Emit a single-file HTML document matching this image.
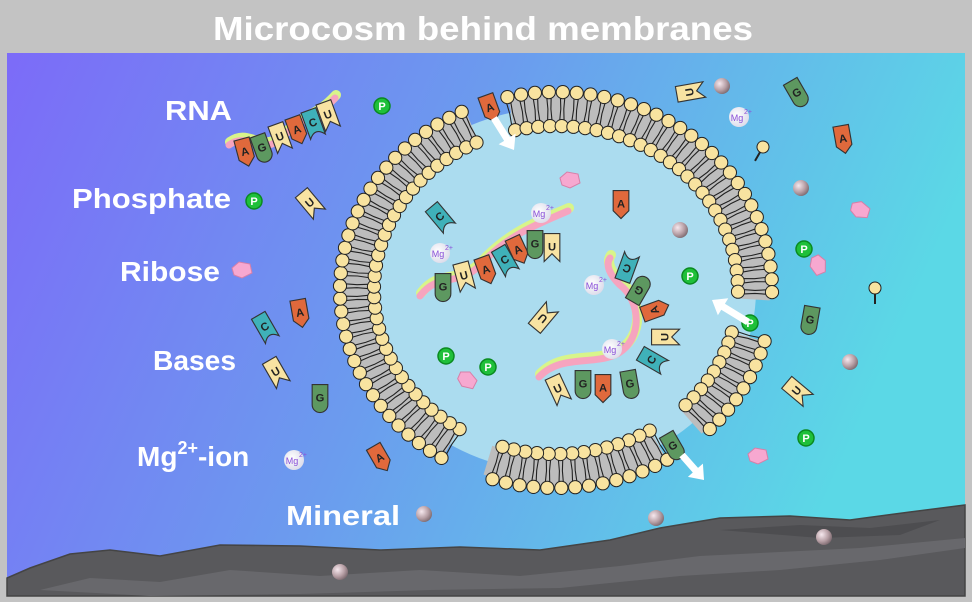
<!DOCTYPE html>
<html><head><meta charset="utf-8"><style>
html,body{margin:0;padding:0;background:#c3c3c3;}
svg{display:block;}
.lbl{font-family:"Liberation Sans",sans-serif;font-weight:bold;fill:#fff;}
</style></head><body>
<svg id="s" width="972" height="602" viewBox="0 0 972 602" xmlns="http://www.w3.org/2000/svg">
<defs>
<linearGradient id="bg" x1="0" y1="0" x2="1" y2="0.25">
<stop offset="0" stop-color="#7c6bf8"/><stop offset="0.5" stop-color="#6b9cee"/><stop offset="1" stop-color="#5bd8e6"/>
</linearGradient>
<radialGradient id="min" cx="0.35" cy="0.35" r="0.7"><stop offset="0" stop-color="#f6e8ee"/><stop offset="0.6" stop-color="#b8a0a6"/><stop offset="1" stop-color="#7d6a70"/></radialGradient>
<radialGradient id="mg" cx="0.4" cy="0.4" r="0.7"><stop offset="0" stop-color="#ffffff"/><stop offset="1" stop-color="#d8d8e8"/></radialGradient>
</defs>
<rect x="0" y="0" width="972" height="602" fill="#c3c3c3"/>
<rect x="7" y="53" width="958" height="543" fill="url(#bg)"/>
<text class="lbl" x="213" y="40" font-size="33" textLength="540" lengthAdjust="spacingAndGlyphs">Microcosm behind membranes</text>
<g id="rock">
<path d="M7,596 L7,578 L30,568 L70,554 L110,550 L160,556 L220,545 L300,546 L380,550 L460,547 L540,550 L610,540 L660,528 L720,518 L790,516 L850,520 L910,512 L965,505 L965,596 Z" fill="#59595c" stroke="#444" stroke-width="1.5"/>
<path d="M40,590 L90,578 L160,582 L230,570 L320,576 L420,570 L520,576 L620,566 L700,556 L780,552 L860,548 L965,538 L965,548 L880,560 L780,570 L680,576 L560,588 L430,590 L300,594 L150,596 Z" fill="#68686c"/>
<path d="M720,530 L800,525 L870,528 L940,520 L900,535 L820,538 Z" fill="#4d4d50"/>
</g>
<ellipse cx="556" cy="290" rx="200" ry="182" fill="#abdcef"/>
<g id="mem"></g>
<g id="items"></g>
<text class="lbl" x="165" y="120" font-size="28" textLength="67" lengthAdjust="spacingAndGlyphs">RNA</text>
<text class="lbl" x="72" y="208" font-size="28" textLength="159" lengthAdjust="spacingAndGlyphs">Phosphate</text>
<text class="lbl" x="120" y="281" font-size="28" textLength="100" lengthAdjust="spacingAndGlyphs">Ribose</text>
<text class="lbl" x="153" y="370" font-size="28" textLength="83" lengthAdjust="spacingAndGlyphs">Bases</text>
<text class="lbl" x="137" y="466" font-size="28">Mg<tspan font-size="18" dy="-12">2+</tspan><tspan dy="12">-ion</tspan></text>
<text class="lbl" x="286" y="525" font-size="28" textLength="114" lengthAdjust="spacingAndGlyphs">Mineral</text>
</svg>
<script>
var cx=556,cy=290;
var m='';
var segs=[[-103,3],[15,47],[59,110],[122,245]];
function pt(rx,ry,a){var r=a*Math.PI/180;return [cx+rx*Math.cos(r),cy+ry*Math.sin(r)];}
segs.forEach(function(s){
  var d='';
  for(var a=s[0];a<=s[1]+0.01;a+=1){var p=pt(199,181,a);d+=(d?'L':'M')+p[0].toFixed(1)+','+p[1].toFixed(1);}
  m+='<path d="'+d+'" stroke="#bdbdbd" stroke-width="30" fill="none"/>';
});
var beads='';
segs.forEach(function(s){
  for(var a=s[0];a<=s[1]+0.01;a+=3.7){
    var o=pt(216,198,a),i=pt(182,164,a);
    var ang=a*Math.PI/180,tx=-Math.sin(ang)*2.5,ty=Math.cos(ang)*2.5;
    [-1,1].forEach(function(k){
      var mx=(o[0]+i[0])/2+tx*k*0.6,my=(o[1]+i[1])/2+ty*k*0.6;
      m+='<polyline points="'+(o[0]+tx*k).toFixed(1)+','+(o[1]+ty*k).toFixed(1)+' '+mx.toFixed(1)+','+my.toFixed(1)+' '+(i[0]+tx*k).toFixed(1)+','+(i[1]+ty*k).toFixed(1)+'" stroke="#222" stroke-width="1.1" fill="none"/>';
    });
    beads+='<circle cx="'+o[0].toFixed(1)+'" cy="'+o[1].toFixed(1)+'" r="6.6" fill="#f8e3a0" stroke="#222" stroke-width="1"/>';
    beads+='<circle cx="'+i[0].toFixed(1)+'" cy="'+i[1].toFixed(1)+'" r="6.6" fill="#f8e3a0" stroke="#222" stroke-width="1"/>';
  }
});
document.getElementById('mem').innerHTML=m+beads;

var h='';
var col={A:'#e0693c',G:'#5d9860',U:'#f8e3a2',C:'#3fb1b9'};
function base(x,y,L,r){
  var p;
  if(L=='A')p='M-7,-12 L7,-12 L7,6 L0,13 L-7,6 Z';
  else if(L=='G')p='M-7,-12 L7,-12 L7,6 A7,7 0 0 1 -7,6 Z';
  else if(L=='U')p='M-7,-12 L7,-12 L7,13 L0,6 L-7,13 Z';
  else p='M-7,-12 L7,-12 L7,13 Q0,4 -7,13 Z';
  h+='<g transform="translate('+x+','+y+') rotate('+r+') scale(1.12)"><path d="'+p+'" fill="'+col[L]+'" stroke="#333" stroke-width="1"/><text x="0" y="3" font-family="Liberation Sans,sans-serif" font-weight="bold" font-size="10" text-anchor="middle" fill="#222">'+L+'</text></g>';
}
function P(x,y){h+='<circle cx="'+x+'" cy="'+y+'" r="8" fill="#1fc03a" stroke="#0a8a20" stroke-width="1.5"/><text x="'+x+'" y="'+(y+4)+'" font-family="Liberation Sans,sans-serif" font-weight="bold" font-size="11" text-anchor="middle" fill="#fff">P</text>';}
function MG(x,y){h+='<circle cx="'+x+'" cy="'+y+'" r="10" fill="url(#mg)"/><text x="'+(x-2)+'" y="'+(y+4)+'" font-family="Liberation Sans,sans-serif" font-size="9" text-anchor="middle" fill="#8a4fd8">Mg</text><text x="'+(x+5)+'" y="'+(y-3)+'" font-family="Liberation Sans,sans-serif" font-size="7" fill="#8a4fd8">2+</text>';}
function MIN(x,y){h+='<circle cx="'+x+'" cy="'+y+'" r="8" fill="url(#min)"/>';}
function RIB(x,y,r){h+='<g transform="translate('+x+','+y+') rotate('+(r||0)+')"><path d="M-10,-2 L-3,-8 L8,-6 L10,3 L0,8 L-8,5 Z" fill="#f7a8d0" stroke="#d77fa8" stroke-width="1"/></g>';}
function LIP(x,y,r){h+='<g transform="translate('+x+','+y+') rotate('+r+')"><line x1="0" y1="0" x2="0" y2="16" stroke="#222" stroke-width="2"/><circle cx="0" cy="0" r="6" fill="#f8e3a0" stroke="#222"/></g>';}
function ARR(x1,y1,x2,y2){
  var a=Math.atan2(y2-y1,x2-x1),L=Math.hypot(x2-x1,y2-y1);
  h+='<g transform="translate('+x1+','+y1+') rotate('+(a*180/Math.PI)+')"><path d="M0,-3.5 L'+(L-13)+',-3.5 L'+(L-13)+',-10 L'+L+',0 L'+(L-13)+',10 L'+(L-13)+',3.5 L0,3.5 Z" fill="#fff"/></g>';
}
function RNA(d){h+='<path d="'+d+'" stroke="#d8f58a" stroke-width="10" fill="none" stroke-linecap="round" transform="translate(1,-3)"/><path d="'+d+'" stroke="#f6a4bf" stroke-width="7" fill="none" stroke-linecap="round"/>';}

RNA('M229,145 C250,130 260,160 285,135 C305,115 315,120 335,98');
[['A',245,152,-15],['G',262,148,-20],['U',280,137,-20],['A',297,130,-20],['C',313,123,-20],['U',328,115,-20]].forEach(function(b){base(b[1],b[2],b[0],b[3]);});
RNA('M420,296 C440,270 460,290 485,260 C510,235 535,225 568,211');
[['G',443,287,0],['U',464,276,-15],['A',486,270,-20],['C',505,260,-30],['A',518,250,-25],['G',535,244,0],['U',552,247,0]].forEach(function(b){base(b[1],b[2],b[0],b[3]);});
base(440,217,'C',-40);
RNA('M539,377 C560,355 590,365 615,355 C645,340 640,300 620,285 C610,275 605,265 610,258');
[['U',558,389,-25],['G',583,384,0],['A',603,388,0],['G',630,384,-10],['C',652,360,-60],['U',665,337,-90],['A',655,310,-110],['G',639,290,-150],['C',627,268,-160]].forEach(function(b){base(b[1],b[2],b[0],b[3]);});

base(690,92,'U',-100); base(797,93,'G',-30); base(843,139,'A',-10); base(310,203,'U',-40);
base(265,327,'C',-30); base(300,313,'A',-10); base(276,372,'U',-30); base(320,398,'G',0);
base(380,458,'A',-30); base(621,204,'A',0); base(543,318,'U',-140); base(810,320,'G',10);
base(797,391,'U',-50); base(490,108,'A',-20); base(673,446,'G',-30);
[[382,106],[254,201],[804,249],[690,276],[750,323],[806,438],[446,356],[488,367]].forEach(function(p){P(p[0],p[1]);});
[[739,117],[294,460],[541,213],[440,253],[594,285],[612,349]].forEach(function(p){MG(p[0],p[1]);});
[[722,86],[801,188],[680,230],[850,362],[424,514],[656,518],[824,537],[340,572]].forEach(function(p){MIN(p[0],p[1]);});
RIB(570,180,0);RIB(242,270,0);RIB(860,210,30);RIB(818,265,80);RIB(467,380,40);RIB(758,456,0);
LIP(763,147,30);LIP(875,288,0);
ARR(494,118,514,150);ARR(748,322,712,300);ARR(682,455,704,480);
document.getElementById('items').innerHTML=h;
</script>
</body></html>
